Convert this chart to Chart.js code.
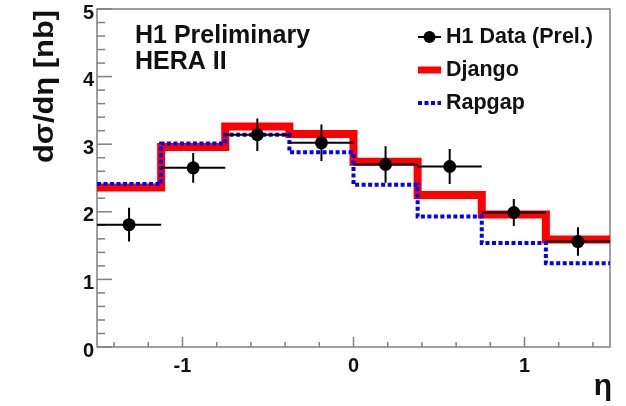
<!DOCTYPE html>
<html>
<head>
<meta charset="utf-8">
<script src="https://cdn.jsdelivr.net/npm/chart.js@4.4.1/dist/chart.umd.min.js"></script>
<style>
  html, body { margin: 0; padding: 0; background: #fff; }
</style>
</head>
<body>
<canvas id="c" width="626" height="406"></canvas>
<script>
// bin edges in eta
const binEdges = [-1.5, -1.125, -0.75, -0.375, 0, 0.375, 0.75, 1.125, 1.5];
// model predictions per bin
const django = [2.36, 2.96, 3.26, 3.15, 2.74, 2.25, 1.96, 1.59];
const rapgap = [2.41, 3.01, 3.14, 2.88, 2.40, 1.93, 1.54, 1.24];
// H1 data
const dataX = [-1.3125, -0.9375, -0.5625, -0.1875, 0.1875, 0.5625, 0.9375, 1.3125];
const dataY = [1.81, 2.65, 3.14, 3.02, 2.70, 2.67, 1.99, 1.56];
const dataErr = [0.25, 0.22, 0.24, 0.27, 0.27, 0.26, 0.20, 0.21];
// axis ticks
const xTicks = [-1, 0, 1];
const yTicks = [0, 1, 2, 3, 4, 5];

const FONT = '"Liberation Sans", Arial, Helvetica, sans-serif';
const AXIS_GREY = '#808080';

// step points: one per left edge + closing point at the last edge
function stepPoints(vals) {
    return binEdges.map((e, i) => ({ x: e, y: vals[Math.min(i, vals.length - 1)] }));
}

const framePlugin = {
    id: 'frame',
    beforeDatasetsDraw(chart) {
        const { ctx, chartArea: a, scales: { x, y } } = chart;
        ctx.save();
        ctx.strokeStyle = AXIS_GREY;
        ctx.lineWidth = 1.5;
        ctx.strokeRect(a.left, a.top, a.right - a.left, a.bottom - a.top);
        // y ticks (inward), minor every 0.2
        for (let i = 0; i <= 25; i++) {
            const py = y.getPixelForValue(i * 0.2);
            const len = i % 5 === 0 ? 15 : 8;
            ctx.beginPath();
            ctx.moveTo(a.left, py);
            ctx.lineTo(a.left + len, py);
            ctx.stroke();
        }
        // x ticks (inward)
        for (let i = -7; i <= 7; i++) {
            const px = x.getPixelForValue(i * 0.2);
            const len = i % 5 === 0 ? 10 : 5;
            ctx.beginPath();
            ctx.moveTo(px, a.bottom);
            ctx.lineTo(px, a.bottom - len);
            ctx.stroke();
        }
        // y tick labels, sitting a little below their ticks like the original
        ctx.fillStyle = '#111';
        ctx.font = 'bold 20px ' + FONT;
        ctx.textAlign = 'right';
        ctx.textBaseline = 'middle';
        yTicks.forEach(v => ctx.fillText(String(v), a.left - 3, y.getPixelForValue(v) + 4));
        ctx.restore();
    },
    beforeDatasetDraw(chart, args) {
        if (args.index !== 0) return;
        const { ctx, scales: { x, y } } = chart;
        ctx.save();
        ctx.strokeStyle = '#000';
        ctx.lineWidth = 2;
        dataY.forEach((v, i) => {
            const px = x.getPixelForValue(dataX[i]);
            const py = y.getPixelForValue(v);
            ctx.beginPath();
            ctx.moveTo(x.getPixelForValue(binEdges[i]), py);
            ctx.lineTo(x.getPixelForValue(binEdges[i + 1]), py);
            ctx.moveTo(px, y.getPixelForValue(v - dataErr[i]));
            ctx.lineTo(px, y.getPixelForValue(v + dataErr[i]));
            ctx.stroke();
        });
        ctx.restore();
    },
    afterDraw(chart) {
        const { ctx } = chart;
        ctx.save();
        ctx.fillStyle = '#111';
        // labels inside plot
        ctx.font = 'bold 25px ' + FONT;
        ctx.textAlign = 'left';
        ctx.textBaseline = 'alphabetic';
        ctx.fillText('H1 Preliminary', 135, 43);
        ctx.fillText('HERA II', 135, 69);

        // legend
        ctx.font = 'bold 21.5px ' + FONT;
        ctx.textBaseline = 'middle';
        const rows = [37, 70, 103];
        ctx.fillText('H1 Data (Prel.)', 446, rows[0]);
        ctx.fillText('Django', 446, rows[1]);
        ctx.fillText('Rapgap', 446, rows[2]);
        ctx.strokeStyle = '#000';
        ctx.lineWidth = 2;
        ctx.beginPath();
        ctx.moveTo(418, rows[0]);
        ctx.lineTo(441, rows[0]);
        ctx.stroke();
        ctx.beginPath();
        ctx.arc(429.5, rows[0], 6, 0, Math.PI * 2);
        ctx.fillStyle = '#000';
        ctx.fill();
        ctx.strokeStyle = '#ff0000';
        ctx.lineWidth = 7;
        ctx.beginPath();
        ctx.moveTo(418, rows[1]);
        ctx.lineTo(441, rows[1]);
        ctx.stroke();
        ctx.strokeStyle = '#0000ff';
        ctx.lineWidth = 4;
        ctx.setLineDash([4, 2.5]);
        ctx.beginPath();
        ctx.moveTo(418, rows[2]);
        ctx.lineTo(441, rows[2]);
        ctx.stroke();
        ctx.setLineDash([]);

        // y axis title, stretched along its length to the original's span
        ctx.fillStyle = '#111';
        ctx.font = 'bold 27px ' + FONT;
        ctx.textBaseline = 'alphabetic';
        const title = 'dσ/dη [nb]';
        const w = ctx.measureText(title).width;
        ctx.save();
        ctx.translate(53, 10);
        ctx.rotate(-Math.PI / 2);
        ctx.scale(153 / w, 1);
        ctx.textAlign = 'right';
        ctx.fillText(title, 0, 0);
        ctx.restore();

        ctx.font = 'bold 30px ' + FONT;
        ctx.textAlign = 'right';
        ctx.fillText('η', 612, 395);
        ctx.restore();
    }
};

const ctx = document.getElementById('c').getContext('2d');
const chart = new Chart(ctx, {
    type: 'scatter',
    data: {
        datasets: [
            {
                label: 'H1 Data (Prel.)',
                data: dataX.map((v, i) => ({ x: v, y: dataY[i] })),
                pointRadius: 6.5,
                pointBackgroundColor: '#000',
                pointBorderWidth: 0,
                showLine: false
            },
            {
                label: 'Rapgap',
                type: 'line',
                data: stepPoints(rapgap),
                stepped: 'before',
                borderColor: '#0000ff',
                borderWidth: 4,
                borderDash: [4, 2.5],
                pointRadius: 0,
                fill: false
            },
            {
                label: 'Django',
                type: 'line',
                data: stepPoints(django),
                stepped: 'before',
                borderColor: '#ff0000',
                borderWidth: 8,
                borderJoinStyle: 'miter',
                pointRadius: 0,
                fill: false
            }
        ]
    },
    options: {
        responsive: false,
        animation: false,
        devicePixelRatio: 1,
        layout: { padding: { top: 9, right: 16, left: 0, bottom: 0 } },
        plugins: { legend: { display: false }, tooltip: { enabled: false } },
        scales: {
            x: {
                type: 'linear',
                min: -1.5,
                max: 1.5,
                afterBuildTicks: s => { s.ticks = xTicks.map(v => ({ value: v })); },
                afterFit: s => { s.height = 59; s.paddingLeft = 0; s.paddingRight = 0; },
                grid: { display: false, drawTicks: false },
                border: { display: false },
                ticks: {
                    color: '#111',
                    font: { family: FONT, size: 20, weight: 'bold' },
                    padding: 7,
                    maxRotation: 0,
                    callback: v => String(v)
                }
            },
            y: {
                min: 0,
                max: 5,
                afterBuildTicks: s => { s.ticks = yTicks.map(v => ({ value: v })); },
                afterFit: s => { s.width = 97; s.paddingTop = 0; s.paddingBottom = 0; },
                grid: { display: false, drawTicks: false },
                border: { display: false },
                ticks: { display: false }
            }
        }
    },
    plugins: [framePlugin]
});
</script>
</body>
</html>
